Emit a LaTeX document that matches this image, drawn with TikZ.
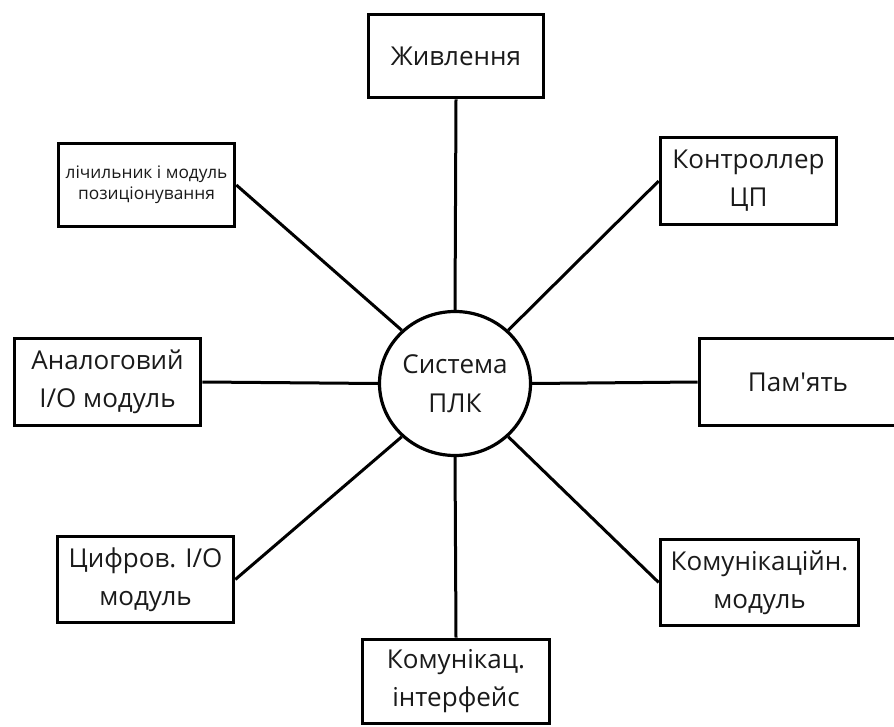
\documentclass[tikz,border=0pt]{standalone}
\usepackage{fontspec}
\setmainfont{Open Sans}
\newfontfamily\plainos{Open Sans}[Ligatures=TeXOff]
\usetikzlibrary{shapes.geometric}
\definecolor{txt}{HTML}{1A1A1A}
\begin{document}
\begin{tikzpicture}[x=1pt,y=-1pt,
  box/.style={draw=black,line width=3.6pt,rectangle,align=center,text=txt,
    font=\fontsize{26}{38}\selectfont,inner sep=0pt},
  conn/.style={draw=black,line width=3pt}]
\clip (0,0) rectangle (894,727);
\fill[white] (0,0) rectangle (894,727);
\node[draw=black,line width=3.2pt,ellipse,minimum width=151pt,minimum height=144pt,
  align=center,text=txt,font=\fontsize{26}{39}\selectfont,inner sep=0pt] (plc) at (455,383.5) {Система\\ПЛК};
\node[box,minimum width=175pt,minimum height=83pt] (zhyv) at (456,56) {Живлення};
\node[box,minimum width=176pt,minimum height=83pt,font=\fontsize{17.3}{21}\selectfont] (lich) at (146.5,185) {лічильник і модуль\\позиціонування};
\node[box,minimum width=176pt,minimum height=87pt] (cpu) at (748.5,181) {Контроллер\\ЦП};
\node[box,minimum width=186pt,minimum height=87pt] (analog) at (107.5,382) {Аналоговий\\I/O модуль};
\node[box,minimum width=197pt,minimum height=87pt] (mem) at (798,382) {{\plainos Пам'ять}};
\node[box,minimum width=176pt,minimum height=86pt] (digit) at (145.5,579.5) {Цифров. I/O\\модуль};
\node[box,minimum width=198pt,minimum height=86pt] (commod) at (759.5,582.5) {Комунікаційн.\\модуль};
\node[box,minimum width=187pt,minimum height=84pt] (comif) at (456,681.5) {Комунікац.\\інтерфейс};
\draw[conn] (plc.north) -- (zhyv.south);
\draw[conn] (plc.south) -- (comif.north);
\draw[conn] (plc.west) -- (analog.east);
\draw[conn] (plc.east) -- (mem.west);
\draw[conn] (plc.45) -- (cpu.west);
\draw[conn] (plc.135) -- (lich.east);
\draw[conn] (plc.225) -- (digit.east);
\draw[conn] (plc.315) -- (commod.west);
\end{tikzpicture}
\end{document}
